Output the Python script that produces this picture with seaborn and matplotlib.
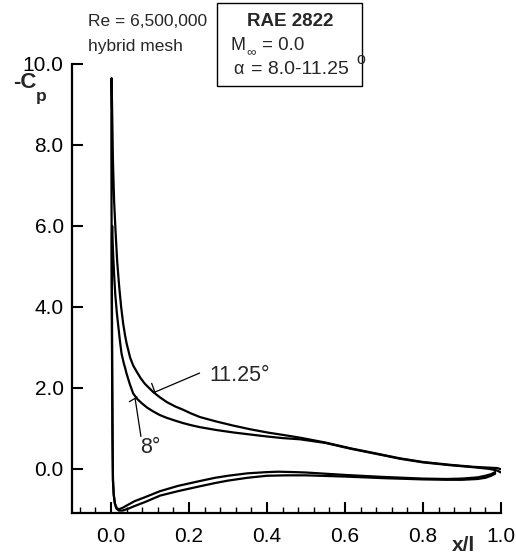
import numpy as np
import pandas as pd
import matplotlib
matplotlib.use("Agg")
import matplotlib.pyplot as plt
import seaborn as sns
from matplotlib.ticker import MultipleLocator, FixedLocator, FormatStrFormatter
from matplotlib.patches import Rectangle

# ---------------- data ----------------
# 11.25 deg: lower surface, trailing edge -> stagnation -> up to the suction peak
x_1125_lower = [0.985, 0.975, 0.96, 0.94, 0.90, 0.86, 0.80, 0.70, 0.60, 0.50, 0.45, 0.40,
                0.35, 0.30, 0.267, 0.228, 0.172, 0.126, 0.087, 0.06, 0.045, 0.03, 0.02,
                0.014, 0.010, 0.007, 0.005, 0.004, 0.003, 0.002, 0.0015, 0.001, 0.001, 0.0015]
cp_1125_lower = [-0.12, -0.17, -0.22, -0.25, -0.27, -0.27, -0.26, -0.23, -0.19, -0.16, -0.16, -0.17,
                 -0.22, -0.29, -0.35, -0.43, -0.55, -0.66, -0.82, -0.92, -0.98, -1.03, -1.03,
                 -0.98, -0.87, -0.65, -0.30, 0.5, 2.0, 4.0, 6.0, 8.0, 9.0, 9.65]
# 11.25 deg: upper surface, suction peak -> trailing edge
x_1125_upper = [0.003, 0.005, 0.008, 0.012, 0.016, 0.021, 0.026, 0.031, 0.036, 0.040, 0.049,
                0.057, 0.066, 0.076, 0.087, 0.108, 0.125, 0.143, 0.165, 0.185, 0.205, 0.228,
                0.27, 0.313, 0.356, 0.40, 0.44, 0.485, 0.55, 0.613, 0.68, 0.741, 0.80, 0.87,
                0.93, 0.97, 0.99, 1.0]
cp_1125_upper = [8.8, 7.6, 6.6, 5.8, 5.1, 4.5, 4.0, 3.6, 3.3, 3.1, 2.75,
                 2.55, 2.4, 2.24, 2.1, 1.9, 1.77, 1.65, 1.54, 1.46, 1.37, 1.28,
                 1.17, 1.07, 0.98, 0.90, 0.84, 0.77, 0.65, 0.51, 0.38, 0.26, 0.17, 0.10,
                 0.05, 0.03, 0.02, -0.01]

# 8 deg
x_8_lower = [0.985, 0.975, 0.96, 0.94, 0.90, 0.86, 0.80, 0.70, 0.60, 0.50, 0.47, 0.43, 0.40,
             0.35, 0.30, 0.267, 0.228, 0.172, 0.126, 0.087, 0.06, 0.045, 0.03, 0.02,
             0.014, 0.010, 0.007, 0.005, 0.004, 0.003, 0.0025, 0.002, 0.002, 0.003]
cp_8_lower = [-0.08, -0.13, -0.17, -0.21, -0.24, -0.25, -0.24, -0.20, -0.15, -0.09, -0.08, -0.07, -0.08,
              -0.11, -0.17, -0.22, -0.30, -0.42, -0.55, -0.70, -0.80, -0.88, -0.96, -1.0,
              -0.96, -0.85, -0.62, -0.25, 0.8, 2.5, 4.0, 5.0, 5.7, 6.0]
x_8_upper = [0.005, 0.008, 0.011, 0.015, 0.019, 0.023, 0.027, 0.033, 0.036, 0.040, 0.048,
             0.057, 0.067, 0.079, 0.093, 0.108, 0.125, 0.143, 0.165, 0.185, 0.205, 0.228,
             0.27, 0.313, 0.356, 0.40, 0.44, 0.485, 0.55, 0.613, 0.68, 0.741, 0.80, 0.87,
             0.93, 0.97, 0.99, 1.0]
cp_8_upper = [5.4, 4.8, 4.3, 3.85, 3.5, 3.15, 2.85, 2.6, 2.5, 2.35, 2.1,
              1.86, 1.73, 1.62, 1.51, 1.42, 1.33, 1.26, 1.19, 1.13, 1.08, 1.03,
              0.96, 0.90, 0.85, 0.80, 0.76, 0.73, 0.64, 0.50, 0.37, 0.25, 0.16, 0.09,
              0.04, 0.0, -0.04, -0.09]

x_ticks = [0.0, 0.2, 0.4, 0.6, 0.8, 1.0]
y_ticks = [0.0, 2.0, 4.0, 6.0, 8.0, 10.0]

rows = []
for name, xl, cl, xu, cu in [("8", x_8_lower, cp_8_lower, x_8_upper, cp_8_upper),
                             ("11.25", x_1125_lower, cp_1125_lower, x_1125_upper, cp_1125_upper)]:
    xs = list(xl) + list(xu)
    cs = list(cl) + list(cu)
    for i, (a, b) in enumerate(zip(xs, cs)):
        rows.append({"alpha": name, "order": i, "x": a, "cp": b})
df = pd.DataFrame(rows)

# ---------------- figure ----------------
sns.set_style("ticks")
plt.rcParams["font.family"] = ["Liberation Sans", "DejaVu Sans"]
plt.rcParams["xtick.direction"] = "in"
plt.rcParams["ytick.direction"] = "in"

W, H = 516, 554
fig = plt.figure(figsize=(W / 100, H / 100), dpi=100)
ax = fig.add_axes([72 / W, 1 - 513 / H, (501 - 72) / W, (513 - 64) / H])

sns.lineplot(data=df, x="x", y="cp", units="alpha", estimator=None, sort=False,
             color="black", linewidth=1.6, ax=ax)

ax.set_xlim(-0.1, 1.0)
ax.set_ylim(-1.09, 10.0)
ax.xaxis.set_major_locator(FixedLocator(x_ticks))
ax.xaxis.set_minor_locator(MultipleLocator(0.04))
ax.yaxis.set_major_locator(FixedLocator(y_ticks))
ax.xaxis.set_major_formatter(FormatStrFormatter("%.1f"))
ax.yaxis.set_major_formatter(FormatStrFormatter("%.1f"))
ax.set_xlabel("")
ax.set_ylabel("")

ax.tick_params(axis="both", which="major", direction="in", length=8, width=1.5,
               labelsize=15, colors="black")
ax.tick_params(axis="x", which="minor", direction="in", length=4, width=1.0, colors="black")
ax.tick_params(axis="x", which="major", pad=10)
ax.tick_params(axis="y", which="major", pad=6)

for s in ["top", "right"]:
    ax.spines[s].set_visible(False)
for s in ["left", "bottom"]:
    ax.spines[s].set_linewidth(1.6)
    ax.spines[s].set_color("black")

# leader lines
def px2d(px, py):
    return (px - 111) / 390.0, (469 - py) / 40.5

def seg(p1, p2, lw=0.9):
    a = px2d(*p1)
    b = px2d(*p2)
    ax.plot([a[0], b[0]], [a[1], b[1]], color="black", lw=lw, solid_capstyle="butt")

seg((200, 373), (153, 393))
seg((151.5, 383), (155.5, 394))
seg((141, 437), (135, 398))
seg((129, 402), (137.5, 397))

tx, ty = px2d(209, 376)
ax.text(tx, ty, "11.25°", fontsize=15.5, ha="left", va="center")
tx, ty = px2d(140, 448)
ax.text(tx, ty, "8°", fontsize=15.5, ha="left", va="center")

# figure texts
def fx(px):
    return px / W

def fy(py):
    return 1 - py / H

fig.text(fx(88), fy(22), "Re = 6,500,000", fontsize=12.5, ha="left", va="center")
fig.text(fx(88), fy(46), "hybrid mesh", fontsize=12.5, ha="left", va="center")

box = Rectangle((fx(217), fy(86)), (362 - 217) / W, (86 - 3) / H, transform=fig.transFigure,
                fill=False, edgecolor="black", linewidth=1.0)
fig.patches.append(box)
fig.text(fx(290), fy(21), "RAE 2822", fontsize=13.5, fontweight="bold", ha="center", va="center")
fig.text(fx(231), fy(45), "M", fontsize=13, ha="left", va="center")
fig.text(fx(246), fy(52), "∞", fontsize=9.5, ha="left", va="center")
fig.text(fx(262), fy(45), "= 0.0", fontsize=13.5, ha="left", va="center")
fig.text(fx(233), fy(69), "α", fontsize=13, ha="left", va="center")
fig.text(fx(251), fy(70), "= 8.0-11.25", fontsize=14, ha="left", va="center")
fig.text(fx(356), fy(60), "o", fontsize=11.5, ha="left", va="center")

fig.text(fx(13), fy(83), "-C", fontsize=16, fontweight="bold", ha="left", va="center")
fig.text(fx(36), fy(96), "p", fontsize=12.5, fontweight="bold", ha="left", va="center")
fig.text(fx(452), fy(551), "x/l", fontsize=15, fontweight="bold", ha="left", va="baseline")

fig.savefig("out.png", dpi=100)
